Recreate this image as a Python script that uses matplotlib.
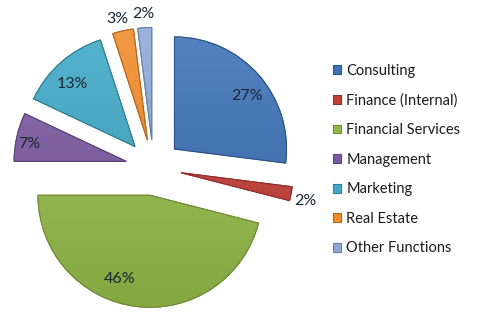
import numpy as np
import matplotlib
matplotlib.use("Agg")
import matplotlib.pyplot as plt
from matplotlib.colors import to_rgb

categories = ["Consulting", "Finance (Internal)", "Financial Services", "Management",
              "Marketing", "Real Estate", "Other Functions"]
values = [27, 2, 46, 7, 13, 3, 2]
pct_labels = ["27%", "2%", "46%", "7%", "13%", "3%", "2%"]
colors = ["#3c71b7", "#c43d38", "#93ba48", "#7b5aa1", "#40a9c6", "#f28b2b", "#8eaad9"]
label_dist = [0.81, 1.13, 0.78, 0.88, 0.80, 1.13, 1.14]
label_rot = [-4, -1, -13, 1.5, 3, 1, 0]

W, H = 480, 313
fig = plt.figure(figsize=(W / 100, H / 100), dpi=100)
ax = fig.add_axes([0, 0, 1, 1])

R = 112
center = (153.5, H - 167.5)
explode = [0.25 * R] * len(values)

wedges, _ = ax.pie(values, colors=colors, startangle=90, counterclock=False,
                   explode=explode, radius=R, center=center, frame=False,
                   wedgeprops=dict(linewidth=0.8))
ax.set_xlim(0, W)
ax.set_ylim(0, H)
ax.set_aspect("equal")
ax.axis("off")

def mix(c, other, t):
    c = np.array(to_rgb(c)); o = np.array(other)
    return c * (1 - t) + o * t

for w, c in zip(wedges, colors):
    w.set_edgecolor(mix(c, (0, 0, 0), 0.25))
    n = 64
    top = mix(c, (1, 1, 1), 0.12)
    bot = mix(c, (0, 0, 0), 0.10)
    t = np.linspace(0, 1, n)[:, None]
    grad = top * (1 - t) + bot * t
    img = np.repeat(grad[:, None, :], 4, axis=1)
    cx, cy = w.center
    im = ax.imshow(img, extent=(cx - R, cx + R, cy - R, cy + R), origin="upper",
                   interpolation="bilinear", zorder=w.get_zorder() + 0.1, aspect="auto")
    im.set_clip_path(w)
    w2 = matplotlib.patches.Wedge(w.center, R, w.theta1, w.theta2, facecolor="none",
                                  edgecolor=mix(c, (0, 0, 0), 0.25), linewidth=0.8,
                                  zorder=w.get_zorder() + 0.2)
    ax.add_patch(w2)

ax.set_xlim(0, W)
ax.set_ylim(0, H)

for w, lab, d, rot in zip(wedges, pct_labels, label_dist, label_rot):
    ang = np.deg2rad((w.theta1 + w.theta2) / 2 + rot)
    cx, cy = w.center
    x = cx + d * R * np.cos(ang)
    y = cy + d * R * np.sin(ang) - 2
    ax.text(x, y, lab, ha="center", va="center", fontsize=11.5, color="#1b2633",
            family="Lato", zorder=10)

leg = fig.legend(wedges, categories, loc="center left", bbox_to_anchor=(333 / W, 1 - 159.5 / H),
                 frameon=False, prop={"family": "Lato", "size": 10.5},
                 handlelength=0.55, handleheight=0.55, handletextpad=0.35,
                 labelspacing=1.07, borderaxespad=0, borderpad=0)
for t in leg.get_texts():
    t.set_color("#1b1b1b")

fig.savefig("out.png", dpi=100, facecolor="white")
